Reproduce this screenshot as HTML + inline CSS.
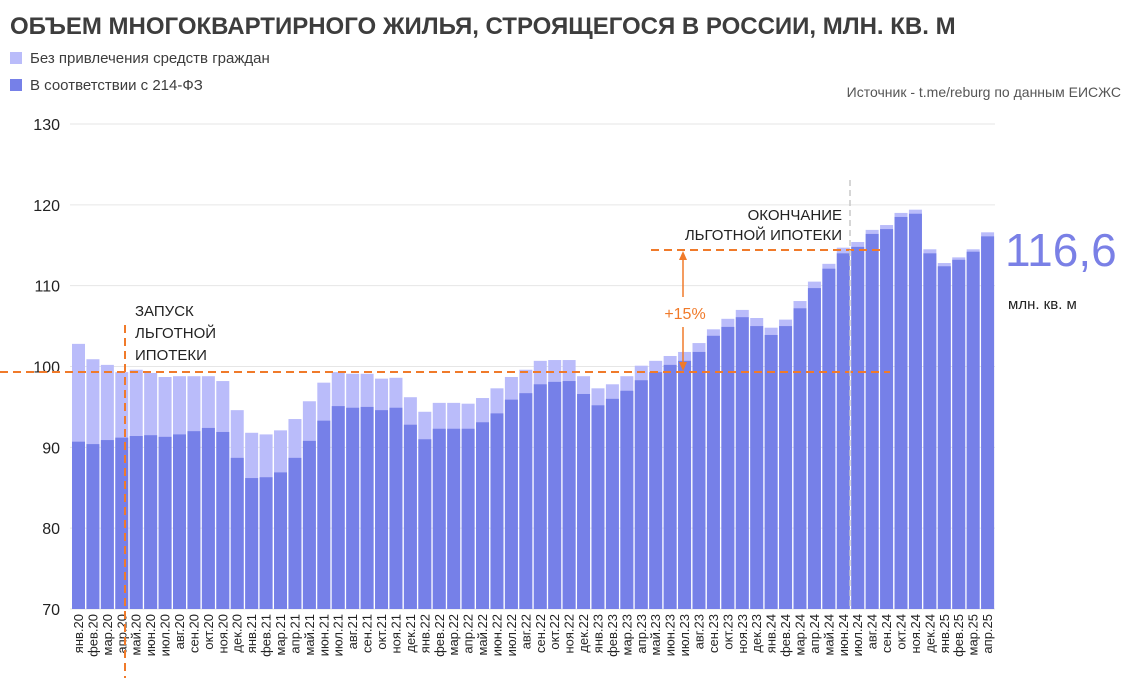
<!DOCTYPE html>
<html><head><meta charset="utf-8">
<style>
body{margin:0;background:#fff;font-family:"Liberation Sans",sans-serif;}
#c{position:relative;width:1136px;height:678px;overflow:hidden}
</style></head><body>
<div id="c">
<svg id="s" width="1136" height="678" xmlns="http://www.w3.org/2000/svg">
<text x="10" y="34" font-size="24" font-weight="bold" fill="#3d3d3d">ОБЪЕМ МНОГОКВАРТИРНОГО ЖИЛЬЯ, СТРОЯЩЕГОСЯ В РОССИИ, МЛН. КВ. М</text>
<rect x="10" y="52" width="12" height="12" fill="#babcfa"/>
<text x="30" y="63" font-size="15" fill="#3d3d3d">Без привлечения средств граждан</text>
<rect x="10" y="79" width="12" height="12" fill="#7680e8"/>
<text x="30" y="90" font-size="15" fill="#3d3d3d">В соответствии с 214-ФЗ</text>
<text x="1121" y="97" font-size="14" fill="#555" text-anchor="end">Источник - t.me/reburg по данным ЕИСЖС</text>
<g id="grid"></g><g id="bars"></g><g id="xl"></g><g id="ann"></g>
<text x="1005" y="266" font-size="46" fill="#7a80e6">116,6</text>
<text x="1008" y="309" font-size="15" fill="#222">млн. кв. м</text>
</svg>
</div>
<script>
const months=["янв","фев","мар","апр","май","июн","июл","авг","сен","окт","ноя","дек"];
const yTicks=[70,80,90,100,110,120,130];
const totals=[102.8,100.9,100.2,99.3,99.6,99.2,98.7,98.8,98.8,98.8,98.2,94.6,91.8,91.6,92.1,93.5,95.7,98.0,99.3,99.1,99.1,98.5,98.6,96.2,94.4,95.5,95.5,95.4,96.1,97.3,98.7,99.6,100.7,100.8,100.8,98.8,97.3,97.8,98.8,100.1,100.7,101.3,101.8,102.9,104.6,105.9,107.0,106.0,104.8,105.8,108.1,110.5,112.7,114.7,115.4,116.9,117.5,119.0,119.4,114.5,112.8,113.5,114.5,116.6];
const fz214=[90.7,90.4,90.9,91.2,91.4,91.5,91.3,91.6,92.0,92.4,91.9,88.7,86.2,86.3,86.9,88.7,90.8,93.3,95.1,94.9,95.0,94.6,94.9,92.8,91.0,92.3,92.3,92.3,93.1,94.2,95.9,96.7,97.8,98.1,98.2,96.6,95.2,96.0,97.0,98.3,99.3,100.2,100.7,101.8,103.8,104.9,106.1,105.0,103.9,105.0,107.2,109.7,112.1,114.0,114.8,116.4,117.0,118.5,118.9,114.0,112.4,113.2,114.2,116.1];
const cats=[];for(let i=0;i<64;i++){const m=i%12,y=20+Math.floor(i/12);cats.push(months[m]+"."+y);}
const NS="http://www.w3.org/2000/svg";
const y=v=>609-(v-70)*(485/60);
const x0=72,pitch=14.43,bw=13;
const xc=i=>x0+i*pitch+bw/2;
function mk(t,a,p){const e=document.createElementNS(NS,t);for(const k in a)e.setAttribute(k,a[k]);document.getElementById(p).appendChild(e);return e;}
yTicks.forEach(v=>{
 const l=mk("line",{x1:70,x2:995,y1:y(v),y2:y(v),stroke:"#e6e6e6","stroke-width":1},"grid");
 
 
 const t=mk("text",{x:60,y:y(v)+6,"font-size":16,fill:"#222","text-anchor":"end"},"grid");
 t.textContent=v;
 
 
});
cats.forEach((c,i)=>{
 const bx=x0+i*pitch;
 const r1=mk("rect",{x:bx,y:y(totals[i]),width:bw,height:y(70)-y(totals[i]),fill:"#babcfa"},"bars");
 
 
 const r2=mk("rect",{x:bx,y:y(fz214[i]),width:bw,height:y(70)-y(fz214[i]),fill:"#7680e8"},"bars");
 
 
 const t=mk("text",{x:0,y:0,"font-size":13,fill:"#222","text-anchor":"end",transform:`translate(${xc(i)+4.5},614) rotate(-90)`},"xl");
 t.textContent=c;
 
 
});
const o="#f07a2a";
[[0,372,890,372],[651,250,885,250],[125,325,125,678]].forEach(a=>{
 const l=mk("line",{x1:a[0],y1:a[1],x2:a[2],y2:a[3],stroke:o,"stroke-width":2,"stroke-dasharray":"8,5"},"ann");
 
 
});
const g=mk("line",{x1:850,y1:180,x2:850,y2:609,stroke:"#c8c8c8","stroke-width":1.5,"stroke-dasharray":"6,4"},"ann");


[[683,258,683,297],[683,327,683,364]].forEach(a=>{const l=mk("line",{x1:a[0],y1:a[1],x2:a[2],y2:a[3],stroke:o,"stroke-width":1.5},"ann");});
const p1=mk("polygon",{points:"683,251 679,260 687,260",fill:o},"ann");
const p2=mk("polygon",{points:"683,371 679,362 687,362",fill:o},"ann");
const txt=[["+15%",685,319,"middle",o,16],["ЗАПУСК",135,316,"start","#222",15],["ЛЬГОТНОЙ",135,338,"start","#222",15],["ИПОТЕКИ",135,360,"start","#222",15],["ОКОНЧАНИЕ",842,220,"end","#222",15],["ЛЬГОТНОЙ ИПОТЕКИ",842,240,"end","#222",15]];
txt.forEach(a=>{const t=mk("text",{x:a[1],y:a[2],"text-anchor":a[3],fill:a[4],"font-size":a[5]},"ann");t.textContent=a[0];});
</script>
</body></html>
